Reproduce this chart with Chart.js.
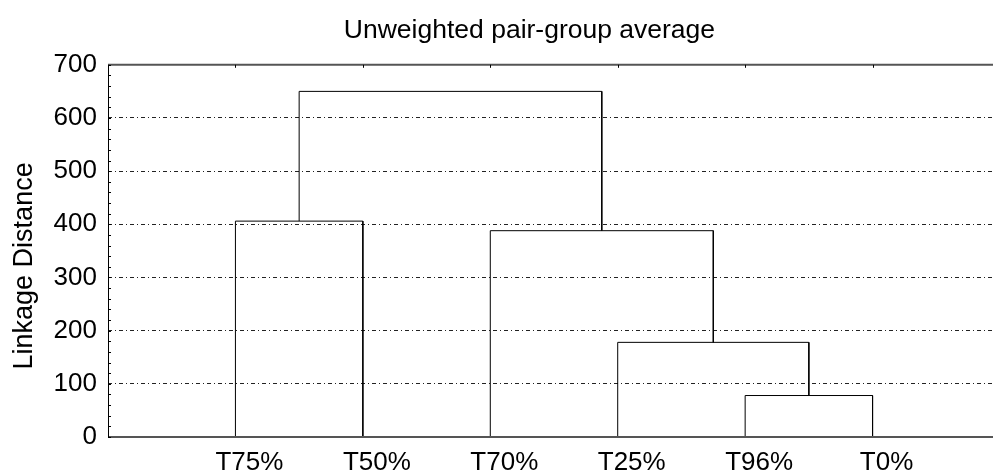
<!DOCTYPE html>
<html>
<head>
<meta charset="utf-8">
<script src="https://cdn.jsdelivr.net/npm/chart.js@4/dist/chart.umd.min.js"></script>
<style>
  body { margin: 0; overflow: hidden; background: #fff; }
  #wrap { width: 1000px; height: 476px; }
</style>
</head>
<body>
<div id="wrap"><canvas id="dendro"></canvas></div>
<script>
// leaves in plotting order
const leafLabels = ["T75%", "T50%", "T70%", "T25%", "T96%", "T0%"];
// merges: node index of left and right child (leaves 0-5, merge k becomes node 6+k)
const mergeLeft = [0, 4, 3, 2, 6];
const mergeRight = [1, 5, 7, 8, 9];
const mergeHeight = [406, 78, 178, 388, 650];

const yTicks = [0, 100, 200, 300, 400, 500, 600, 700];

const nodeX = leafLabels.map((_, i) => i + 1);
const nodeY = leafLabels.map(() => 0);

const datasets = [];
for (let k = 0; k < mergeHeight.length; k++) {
    const a = mergeLeft[k];
    const b = mergeRight[k];
    const h = mergeHeight[k];
    datasets.push({
        data: [
            {x: nodeX[a], y: nodeY[a]},
            {x: nodeX[a], y: h},
            {x: nodeX[b], y: h},
            {x: nodeX[b], y: nodeY[b]},
        ],
        showLine: true,
        borderColor: "#000",
        borderWidth: 1,
        pointRadius: 0,
        tension: 0,
    });
    nodeX.push((nodeX[a] + nodeX[b]) / 2);
    nodeY.push(h);
}

const framePlugin = {
    id: "frame",
    afterDatasetsDraw(chart) {
        const {ctx, chartArea, scales} = chart;
        const {left, right, top, bottom} = chartArea;
        ctx.save();
        ctx.setLineDash([]);
        ctx.strokeStyle = "#555";
        ctx.lineWidth = 2;
        ctx.beginPath();
        ctx.moveTo(left, top); ctx.lineTo(right, top);
        ctx.moveTo(left, bottom); ctx.lineTo(right, bottom);
        ctx.stroke();
        ctx.strokeStyle = "#000";
        ctx.lineWidth = 1;
        ctx.beginPath();
        ctx.moveTo(left + 0.5, top); ctx.lineTo(left + 0.5, bottom);
        // minor ticks on the left axis
        for (let v = 0; v <= 700; v += 20) {
            const y = Math.round(scales.y.getPixelForValue(v)) + 0.5;
            ctx.moveTo(left, y); ctx.lineTo(left + 3, y);
        }
        // ticks on top border at leaf positions
        for (let i = 1; i <= leafLabels.length; i++) {
            const x = Math.round(scales.x.getPixelForValue(i)) + 0.5;
            ctx.moveTo(x, top); ctx.lineTo(x, top + 3);
        }
        ctx.stroke();
        ctx.restore();
    }
};

new Chart(document.getElementById("dendro"), {
    type: "scatter",
    data: {datasets: datasets},
    options: {
        responsive: true,
        maintainAspectRatio: false,
        animation: false,
        layout: {padding: 0},
        plugins: {
            legend: {display: false},
            tooltip: {enabled: false},
            title: {
                display: true,
                // leading spaces nudge the title right, as in the original
                text: "        Unweighted pair-group average",
                color: "#000",
                font: {family: "Liberation Sans", size: 26.5, weight: "normal"},
                padding: {top: 15, bottom: 18},
            },
        },
        scales: {
            x: {
                type: "linear",
                min: 0,
                max: leafLabels.length + 1,
                afterFit: (scale) => { scale.height = 39; },
                afterBuildTicks: (scale) => {
                    scale.ticks = leafLabels.map((_, i) => ({value: i + 1}));
                },
                ticks: {
                    callback: (v) => leafLabels[v - 1] || "",
                    color: "#000",
                    font: {family: "Liberation Sans", size: 26},
                    padding: 2,
                    labelOffset: 14,
                    autoSkip: false,
                    maxRotation: 0,
                },
                grid: {display: false},
                border: {display: false},
            },
            y: {
                min: 0,
                max: 700,
                afterFit: (scale) => { scale.width = 108; },
                afterBuildTicks: (scale) => {
                    scale.ticks = yTicks.map((v) => ({value: v}));
                },
                ticks: {
                    color: "#000",
                    font: {family: "Liberation Sans", size: 26},
                    padding: 11,
                },
                grid: {
                    color: "#222",
                    lineWidth: 1,
                    drawTicks: false,
                },
                border: {display: false, dash: [4, 3, 1, 3]},
                title: {
                    display: true,
                    text: "Linkage Distance    ",
                    color: "#000",
                    font: {family: "Liberation Sans", size: 27},
                    padding: {top: 8, bottom: 0},
                },
            },
        },
    },
    plugins: [framePlugin],
});
</script>
</body>
</html>
